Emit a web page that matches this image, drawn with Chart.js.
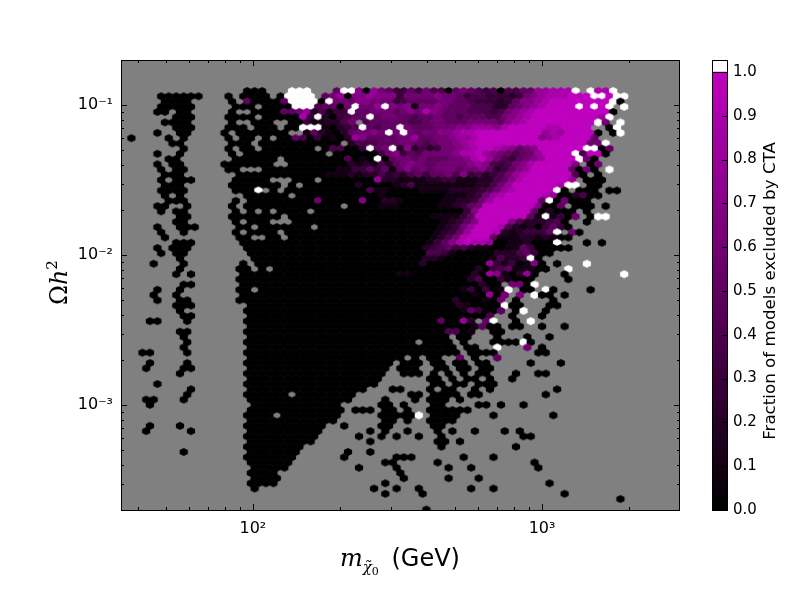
<!DOCTYPE html>
<html>
<head>
<meta charset="utf-8">
<script src="https://cdn.jsdelivr.net/npm/chart.js@4"></script>
<style>
body { margin: 0; background: #fff; }
canvas { position: absolute; top: 0; }
</style>
</head>
<body>
<canvas id="hexChart" width="800" height="600" style="left:0"></canvas>
<canvas id="barChart" width="100" height="600" style="left:700px"></canvas>
<script>
// hexagon bin centres, log10 of the neutralino mass (even rows and odd rows are shifted by half a bin)
const massLogEven = [1.541,1.567,1.592,1.618,1.644,1.670,1.696,1.722,1.748,1.773,1.799,1.825,1.851,1.877,1.902,1.928,1.954,1.980,2.006,2.032,2.057,2.083,2.109,2.135,2.161,2.187,2.212,2.238,2.264,2.290,2.316,2.342,2.367,2.393,2.419,2.445,2.471,2.497,2.522,2.548,2.574,2.600,2.626,2.652,2.677,2.703,2.729,2.755,2.781,2.807,2.832,2.858,2.884,2.910,2.936,2.961,2.987,3.013,3.039,3.065,3.091,3.116,3.142,3.168,3.194,3.220,3.246,3.271,3.297,3.323,3.349,3.375,3.401,3.426,3.452,3.478];
const massLogOdd = [1.554,1.580,1.606,1.631,1.657,1.683,1.709,1.735,1.761,1.786,1.812,1.838,1.864,1.890,1.916,1.941,1.967,1.993,2.019,2.045,2.071,2.096,2.122,2.148,2.174,2.200,2.226,2.251,2.277,2.303,2.329,2.355,2.380,2.406,2.432,2.458,2.484,2.510,2.535,2.561,2.587,2.613,2.639,2.665,2.690,2.716,2.742,2.768,2.794,2.820,2.845,2.871,2.897,2.923,2.949,2.974,3.000,3.026,3.052,3.078,3.104,3.129,3.155,3.181,3.207,3.233,3.259,3.284,3.310,3.336,3.362,3.388,3.414,3.439,3.465];
// log10 of omega h^2 for each hexagon row, top to bottom
const omegaLog = [-0.906,-0.941,-0.976,-1.011,-1.045,-1.080,-1.115,-1.150,-1.185,-1.220,-1.255,-1.290,-1.324,-1.359,-1.394,-1.429,-1.464,-1.499,-1.534,-1.569,-1.603,-1.638,-1.673,-1.708,-1.743,-1.778,-1.813,-1.848,-1.882,-1.917,-1.952,-1.987,-2.022,-2.057,-2.092,-2.127,-2.161,-2.196,-2.231,-2.266,-2.301,-2.336,-2.371,-2.405,-2.440,-2.475,-2.510,-2.545,-2.580,-2.615,-2.650,-2.684,-2.719,-2.754,-2.789,-2.824,-2.859,-2.894,-2.929,-2.963,-2.998,-3.033,-3.068,-3.103,-3.138,-3.173,-3.208,-3.242,-3.277,-3.312,-3.347,-3.382,-3.417,-3.452,-3.487,-3.521,-3.556,-3.591,-3.626,-3.661,-3.696];

// fraction read off each row: "a-b" = bins a to b at 0, "a" = bin a at 0,
// "a:digits" = bins from a on, digit = tenths, x = 1.0, w = above the colour range (white)
const fractionRows = [
"17-19 23:www 29:5ww70865335364405654340445588999w 63:w99w",
"5-10 14 16-19 21 22:wwww 27:568077877736666766534433323678999xxxwwxww",
"6-9 15 17:5 18-21 22:5wwww0w 29:66577666345555665543 49:332357789xxxxxxxxw0",
"5-9 15-17 19-22 23:www45506w668w767166765554442256789xxxxwxwxw 67:w",
"5-6 8-9 15 18-21 22:556824133w556665676976555444346789xxxxxxxxxx0",
"7-9 14-17 19-23 24:93w203455w566554556554555446789xxxxxxxxx8w",
"6-9 15 18-20 23-24 25:3112246 33:45555544566555666657 53:89xxxxxxxxxw6 67:w",
"7-9 14-16 18-20 22-23 24:www 27:10234w5455w65556667788879xxxxx99xxxx 65 66:w",
"5 8-9 14 16-22 25:15210256676w6w656677899xxxxxxxxx898xxxx 64 66 67:w",
"1 6 8 14 16-17 19 21-22 23:5403010287555566855667889xxxxxxxx789xxxx5",
"7-8 15-17 19-24 25-29 31:24445556654566789xxxxxxxxxxxxxxx66w",
"8 14 16-17 19-25 27:044003w56w27242366789xx987567xxxxxxww05",
"5 8 15 17-27 29:0000003673546666799x87654568xxxxw4xx0",
"6-7 15-20 22-29 30:4010w0566565556679x86435678xxxxw60",
"5 7-8 14-20 23-30 31:2121425676556666787434679xxxxx7 63 64:6",
"5 7-8 14-15 19-28 29:11335351575656665667523578xxxxx5060 65:w",
"6-8 16-27 28:111212242324535564734234689xxxxxx40 64",
"5 7-9 15-19 23-25 27-33 34:82211112233111224579xxxxxx8 62-64",
"6-8 15-21 23 25-31 32:20000124111111112246 52:8xxxxxx9ww 63-64",
"5-8 15-17 18:w 20 22-28 29:00004110000111122223 49:4689xxxxxw0 61-63 65-66",
"6 8 17-22 24-30 31:0000100000000111236 50:89xxxxx98002400",
"6-8 15 17-24 25:0600000700221000001122368xxxxxx5w06000",
"5-6 9 15 17-29 31:000011100000112356xxxxxxx7005 61-63 65",
"5 7-8 15 17 19 21-24 26-45 46:37xxxxxxx502000 62",
"8-9 15-21 23-41 42:111135xxxxxxx51w1306 63 64:ww",
"7-8 15 17-19 23-42 43:12357xxxx74222340 62",
"5 8-10 16-17 19-25 27-42 43:12368xxx942120353 60",
"5 8 15 17-20 22-41 42:12358xxx92123335w 60:60",
"6 16-17 20-21 23-41 42:12469xxx5111221210 60",
"7-9 16-40 41:13579x99800112000w 62 64",
"5 7-9 17-40 41:23453421100115300000",
"5 7-8 17-40 41:4431 45-49 50:222453 56-57",
"8 18-40 41:221 44-49 50:14223w0",
"4 8 16 18-39 40:2 41-48 49:83130170 58 62:w",
"8 16-17 19 21-47 48:2034511100 60:w",
"7 9 16-36 37:11 39-46 47:208710280 59 67:w",
"16-46 47:240031000 60",
"8-9 16-47 48:200 52:660w",
"5 8 16-17 19-45 46:130301w 54-55 57:w0 63",
"4 7 16-46 47:10806 53:7 55:w00 59",
"5 8-9 16-44 45:2 46-48 49:106 53 58",
"7-9 17-44 45:21 47-49 50:0w00 57-58",
"8 17-45 46:153005 53:0w 57",
"8-9 17-48 49:4 52 56",
"4-5 9 17-42 43:5 44-45 46:82 49:5w 53 55:w",
"17-46 47:1500 52-53 56 59",
"8-9 17-43 44:44 46 47:1 50-51",
"8 17-43 45-46 50 54 57",
"9 17-39 41-44 46 50-53 54:w 55",
"8 17-44 46-47 50:w 54:6 56",
"3-4 9 17-45 47-50 56-57",
"17-37 39 41-42 45:5 47 50:5",
"4 9 17-36 38-40 42-43 45-46 48-49 55 59",
"3 8-9 17-35 37-39 42-43 45-46 48-49",
"8 17-35 38-40 42 44 46 48-49 53 56-57",
"17-34 41-42 44 46-47 49 52",
"5 17-34 42-43 45-46 48-50",
"9 17-32 36-37 41 43-44 47 49 58",
"9 17-22 24-31 39-40 42-45 47-48 57",
"3-4 8 17-30 35 39 41-43 45",
"4 18-29 35-36 38 42-43 48-49 51 54",
"17-29 31-33 35-36 38 41-46",
"17-20 22-29 35-39 40:w 42-45 50 58",
"17-28 35-36 38 41-44",
"4 8 17-27 30 35-36 42-43",
"3 9 17-26 33 35 38 42 44 47 51 53",
"17-26 32 35 37 40 43 54-55",
"17-25 33 42-43 45",
"17-24 43 53",
"8 17-23 30 33",
"17-23 30 37-39 46 50",
"17-22 35-36 42 55",
"18-22 32 37 44 47 56",
"17-20 37",
"18-21 38 44 48",
"17-20 35 57",
"18 34 37 40 47 50",
"35 40 59",
"67",
"",
"41"
];

const massTicks = [40,50,60,70,80,90,100,200,300,400,500,600,700,800,900,1000,2000];
const massTickLabels = {100:'10²',1000:'10³'};
const omegaTicks = [3e-4,4e-4,5e-4,6e-4,7e-4,8e-4,9e-4,1e-3,2e-3,3e-3,4e-3,5e-3,6e-3,7e-3,8e-3,9e-3,1e-2,2e-2,3e-2,4e-2,5e-2,6e-2,7e-2,8e-2,9e-2,1e-1];
const omegaTickLabels = {0.001:'10⁻³',0.01:'10⁻²',0.1:'10⁻¹'};
const barTicks = [0,0.1,0.2,0.3,0.4,0.5,0.6,0.7,0.8,0.9,1];

function fractionColor(f) {
    if (f > 1) return '#ffffff';
    var v = Math.round(191 * f);
    return 'rgb(' + v + ',0,' + v + ')';
}

// one sprite per fraction, chart.js draws canvas point styles as they are
var sprites = {};
function hexSprite(f) {
    if (sprites[f]) return sprites[f];
    var c = document.createElement('canvas');
    c.width = 12;
    c.height = 12;
    var g = c.getContext('2d');
    g.fillStyle = fractionColor(f);
    g.beginPath();
    g.moveTo(6, 2);
    g.lineTo(10.1, 4);
    g.lineTo(10.1, 8);
    g.lineTo(6, 10);
    g.lineTo(1.9, 8);
    g.lineTo(1.9, 4);
    g.closePath();
    g.fill();
    sprites[f] = c;
    return c;
}

var hexData = [];
fractionRows.forEach(function(row, r) {
    var bins = r % 2 == 0 ? massLogEven : massLogOdd;
    var cells = {};
    row.split(' ').forEach(function(token) {
        if (token == '') return;
        if (token.indexOf(':') >= 0) {
            var parts = token.split(':');
            var start = parseInt(parts[0]);
            for (var i = 0; i < parts[1].length; i++) {
                var ch = parts[1][i];
                cells[start + i] = ch == 'w' ? 1.1 : ch == 'x' ? 1 : parseInt(ch) / 10;
            }
        } else {
            var ends = token.split('-');
            var a = parseInt(ends[0]);
            var b = parseInt(ends[ends.length - 1]);
            for (var k = a; k <= b; k++) cells[k] = 0;
        }
    });
    Object.keys(cells).forEach(function(i) {
        if (bins[i] === undefined) return;
        hexData.push({x: Math.pow(10, bins[i]), y: Math.pow(10, omegaLog[r]), f: cells[i]});
    });
});

function setTicks(list) {
    return function(scale) {
        scale.ticks = list.map(function(v) { return {value: v}; });
    };
}

function drawRuns(ctx, runs, x, y) {
    runs.forEach(function(run) {
        ctx.font = run.font;
        ctx.fillText(run.text, x, y + (run.dy || 0));
        x += ctx.measureText(run.text).width + (run.gap || 0);
    });
}

const hexFrame = {
    id: 'hexFrame',
    beforeDatasetsDraw: function(chart) {
        var a = chart.chartArea;
        chart.ctx.fillStyle = '#808080';
        chart.ctx.fillRect(a.left, a.top, a.right - a.left, a.bottom - a.top);
    },
    afterDatasetsDraw: function(chart) {
        var ctx = chart.ctx, a = chart.chartArea;
        ctx.save();
        ctx.strokeStyle = '#000';
        ctx.lineWidth = 1;
        ctx.beginPath();
        massTicks.forEach(function(v) {
            var len = massTickLabels[v] ? 6 : 3;
            var px = Math.round(chart.scales.x.getPixelForValue(v)) + 0.5;
            ctx.moveTo(px, a.top); ctx.lineTo(px, a.top + len);
            ctx.moveTo(px, a.bottom); ctx.lineTo(px, a.bottom - len);
        });
        omegaTicks.forEach(function(v) {
            var len = omegaTickLabels[v] ? 6 : 3;
            var py = Math.round(chart.scales.y.getPixelForValue(v)) + 0.5;
            ctx.moveTo(a.left, py); ctx.lineTo(a.left + len, py);
            ctx.moveTo(a.right, py); ctx.lineTo(a.right - len, py);
        });
        ctx.stroke();
        ctx.strokeRect(a.left + 0.5, a.top + 0.5, a.right - a.left - 1, a.bottom - a.top);

        // axis labels have math in them, so they are written piece by piece
        ctx.fillStyle = '#000';
        ctx.textBaseline = 'alphabetic';
        drawRuns(ctx, [
            {text: 'm', font: 'italic 24px "DejaVu Serif"'},
            {text: 'χ̃', font: 'italic 15px "DejaVu Serif"', dy: 6},
            {text: '0', font: '11px "DejaVu Serif"', dy: 9, gap: 5},
            {text: ' (GeV)', font: '24px "DejaVu Sans"'}
        ], 340, 566);
        ctx.translate(67, 305);
        ctx.rotate(-Math.PI / 2);
        drawRuns(ctx, [
            {text: 'Ω', font: '24px "DejaVu Serif"'},
            {text: 'h', font: 'italic 24px "DejaVu Serif"'},
            {text: '2', font: '15px "DejaVu Serif"', dy: -10}
        ], 0, 0);
        ctx.restore();
    }
};

new Chart(document.getElementById('hexChart').getContext('2d'), {
    type: 'scatter',
    data: {
        datasets: [{
            data: hexData,
            pointRadius: 4,
            pointStyle: function(ctx) {
                return ctx.raw ? hexSprite(ctx.raw.f) : 'circle';
            }
        }]
    },
    options: {
        responsive: false,
        animation: false,
        events: [],
        layout: {padding: {left: 0, top: 60, right: 120, bottom: 0}},
        plugins: {legend: {display: false}, tooltip: {enabled: false}},
        scales: {
            x: {
                type: 'logarithmic',
                min: 35,
                max: 3000,
                grid: {display: false, drawTicks: false},
                border: {display: false},
                afterBuildTicks: setTicks(massTicks),
                afterFit: function(scale) { scale.height = 90; },
                ticks: {
                    autoSkip: false,
                    maxRotation: 0,
                    color: '#000',
                    font: {family: '"DejaVu Sans"', size: 16},
                    padding: 9,
                    callback: function(v) { return massTickLabels[v] || ''; }
                }
            },
            y: {
                type: 'logarithmic',
                min: 2e-4,
                max: 0.2,
                grid: {display: false, drawTicks: false},
                border: {display: false},
                afterBuildTicks: setTicks(omegaTicks),
                afterFit: function(scale) { scale.width = 121; },
                ticks: {
                    autoSkip: false,
                    color: '#000',
                    font: {family: '"DejaVu Sans"', size: 16},
                    padding: 8,
                    callback: function(v) { return omegaTickLabels[v] || ''; }
                }
            }
        }
    },
    plugins: [hexFrame]
});

const barFrame = {
    id: 'barFrame',
    afterDatasetsDraw: function(chart) {
        var ctx = chart.ctx, a = chart.chartArea;
        ctx.save();
        ctx.strokeStyle = '#000';
        ctx.lineWidth = 1;
        ctx.beginPath();
        barTicks.forEach(function(v) {
            var py = Math.round(chart.scales.y.getPixelForValue(v)) + 0.5;
            ctx.moveTo(a.right - 6, py); ctx.lineTo(a.right, py);
        });
        ctx.stroke();
        ctx.strokeRect(a.left + 0.5, a.top + 0.5, a.right - a.left - 1, a.bottom - a.top);
        var one = Math.round(chart.scales.y.getPixelForValue(1)) + 0.5;
        ctx.beginPath();
        ctx.moveTo(a.left, one); ctx.lineTo(a.right, one);
        ctx.stroke();
        ctx.translate(75, 291);
        ctx.rotate(-Math.PI / 2);
        ctx.font = '16.7px "DejaVu Sans"';
        ctx.fillStyle = '#000';
        ctx.textAlign = 'center';
        ctx.fillText('Fraction of models excluded by CTA', 0, 0);
        ctx.restore();
    }
};

new Chart(document.getElementById('barChart').getContext('2d'), {
    type: 'bar',
    data: {
        labels: ['fraction'],
        datasets: [{
            data: [[0, 1]],
            grouped: false,
            barPercentage: 1,
            categoryPercentage: 1,
            backgroundColor: function(ctx) {
                var a = ctx.chart.chartArea;
                if (!a) return '#000';
                var grad = ctx.chart.ctx.createLinearGradient(0, a.bottom, 0, a.top + 12);
                grad.addColorStop(0, fractionColor(0));
                grad.addColorStop(1, fractionColor(1));
                return grad;
            }
        }, {
            data: [[1, 1.0274]],
            grouped: false,
            barPercentage: 1,
            categoryPercentage: 1,
            backgroundColor: '#fff'
        }]
    },
    options: {
        responsive: false,
        animation: false,
        events: [],
        layout: {padding: {left: 12, top: 60, right: 0, bottom: 90}},
        plugins: {legend: {display: false}, tooltip: {enabled: false}},
        scales: {
            x: {display: false},
            y: {
                position: 'right',
                min: 0,
                max: 1.0274,
                grid: {display: false, drawTicks: false},
                border: {display: false},
                afterBuildTicks: setTicks(barTicks),
                afterFit: function(scale) { scale.width = 72; },
                ticks: {
                    color: '#000',
                    font: {family: '"DejaVu Sans"', size: 15},
                    padding: 5,
                    callback: function(v) { return v.toFixed(1); }
                }
            }
        }
    },
    plugins: [barFrame]
});
</script>
</body>
</html>
